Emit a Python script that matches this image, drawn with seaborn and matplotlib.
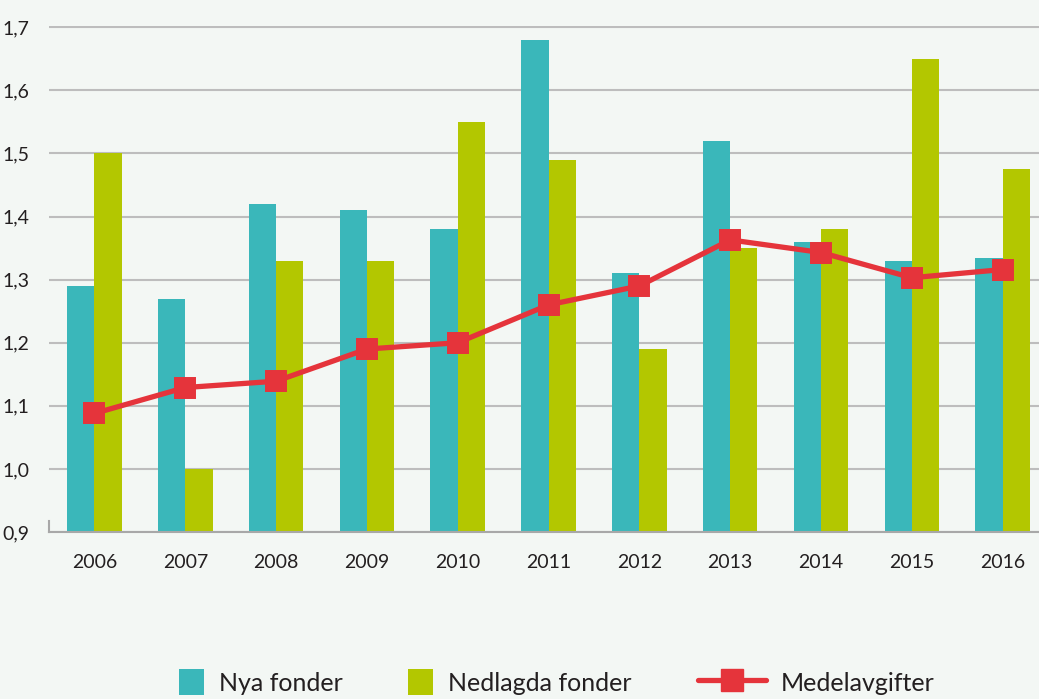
import matplotlib
matplotlib.use('Agg')
import matplotlib.pyplot as plt
import matplotlib.patches as mpatches
from matplotlib.lines import Line2D
import pandas as pd
import seaborn as sns

years = ['2006', '2007', '2008', '2009', '2010', '2011', '2012', '2013', '2014', '2015', '2016']
nya = [1.29, 1.27, 1.42, 1.41, 1.38, 1.68, 1.31, 1.52, 1.36, 1.33, 1.335]
nedlagda = [1.50, 1.00, 1.33, 1.33, 1.55, 1.49, 1.19, 1.35, 1.38, 1.65, 1.475]
medel = [1.088, 1.129, 1.139, 1.19, 1.20, 1.26, 1.29, 1.363, 1.343, 1.303, 1.316]
yticks = [0.9, 1.0, 1.1, 1.2, 1.3, 1.4, 1.5, 1.6, 1.7]

TEAL = '#3ab7ba'
GREEN = '#b3c700'
RED = '#e5343b'
BG = '#f3f7f4'
TXT = '#231f20'

sns.set_style('white')
plt.rcParams['font.family'] = ['Lato', 'DejaVu Sans']

bars = pd.DataFrame({
    'year': years * 2,
    'value': nya + nedlagda,
    'serie': ['Nya fonder'] * len(years) + ['Nedlagda fonder'] * len(years),
})
line = pd.DataFrame({'year': years, 'value': medel})

fig = plt.figure(figsize=(10.39, 6.99), dpi=100, facecolor=BG)
ax = fig.add_axes([0.0472, 0.2389, 0.9528, 0.7239])
ax.set_facecolor(BG)

sns.barplot(data=bars, x='year', y='value', hue='serie',
            palette=[TEAL, GREEN], width=0.6, errorbar=None,
            legend=False, ax=ax, saturation=1, linewidth=0, zorder=2)
sns.pointplot(data=line, x='year', y='value', color=RED, markers='s',
              markersize=13.5, linewidth=3.8, errorbar=None, ax=ax, zorder=4)

ax.set_xlim(-0.5, 10.4)
ax.set_ylim(0.9, 1.702)
ax.set_yticks(yticks)
ax.set_yticklabels([f'{v:.1f}'.replace('.', ',') for v in yticks])
ax.set_xlabel('')
ax.set_ylabel('')
ax.yaxis.grid(True, color='#bdbdbd', lw=1.5)
ax.set_axisbelow(True)
for s in ['top', 'right']:
    ax.spines[s].set_visible(False)
ax.spines['bottom'].set_color('#a8a8a8')
ax.spines['bottom'].set_linewidth(1.5)
ax.spines['left'].set_color('#a8a8a8')
ax.spines['left'].set_linewidth(1.5)
ax.spines['left'].set_bounds(0.9, 0.917)
ax.tick_params(axis='y', length=0, pad=14, labelsize=14, labelcolor=TXT)
ax.tick_params(axis='x', length=0, pad=16, labelsize=14, labelcolor=TXT)

# legend, three items spread along the bottom
items = [
    (mpatches.Patch(color=TEAL, lw=0), 'Nya fonder', 0.172, 1.0),
    (mpatches.Patch(color=GREEN, lw=0), 'Nedlagda fonder', 0.393, 1.0),
    (Line2D([], [], color=RED, lw=3.8, marker='s', markersize=16), 'Medelavgifter', 0.672, 2.7),
]
for h, lab, x0, hl in items:
    fig.legend([h], [lab], loc='center left', bbox_to_anchor=(x0, 0.024),
               frameon=False, fontsize=18, handlelength=hl, handleheight=1.2,
               handletextpad=0.6, borderpad=0, borderaxespad=0,
               labelcolor=TXT)

fig.savefig('out.png', dpi=100, facecolor=BG)
